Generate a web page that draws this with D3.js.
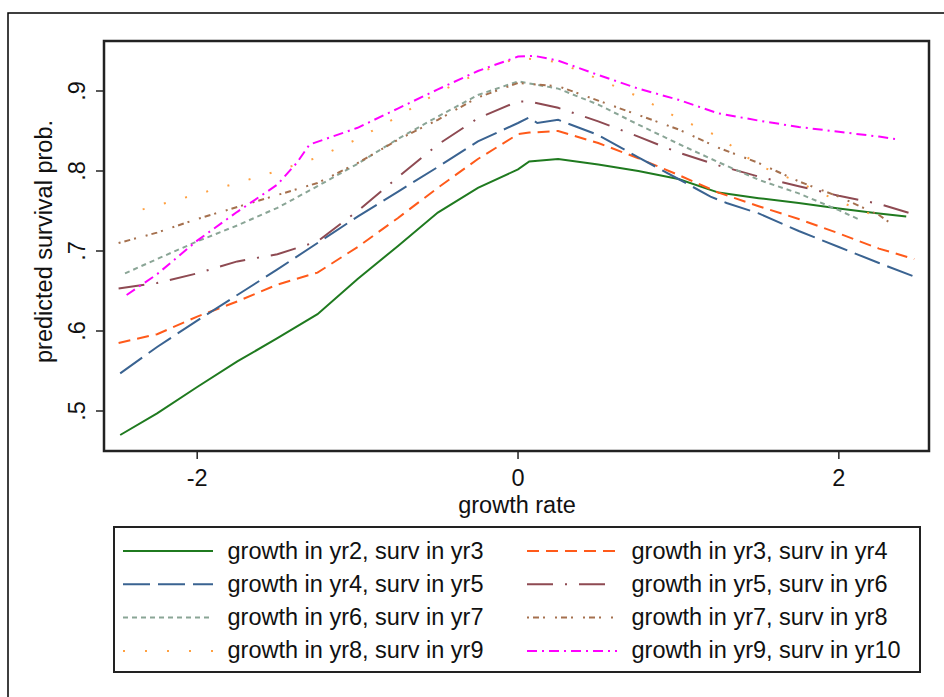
<!DOCTYPE html>
<html>
<head>
<meta charset="utf-8">
<script src="https://cdn.jsdelivr.net/npm/d3@7"></script>
<style>
  body { margin: 0; background: #fff; }
  text { font-family: "Liberation Sans", Arial, sans-serif; fill: #111; }
</style>
</head>
<body>
<div id="chart"></div>
<script>
// Datos: [tasa de crecimiento, prob. de supervivencia]
const yr2_3 = [[-2.48,.470],[-2.25,.497],[-2,.530],[-1.75,.562],[-1.5,.591],[-1.25,.621],[-1,.665],[-0.75,.706],[-0.5,.748],[-0.25,.779],[0,.802],[0.07,.812],[0.25,.815],[0.5,.808],[0.75,.800],[1,.790],[1.25,.773],[1.5,.766],[1.75,.760],[2,.753],[2.25,.747],[2.42,.743]];
const yr3_4 = [[-2.49,.585],[-2.25,.596],[-2,.618],[-1.75,.637],[-1.5,.658],[-1.25,.673],[-1,.705],[-0.75,.741],[-0.5,.779],[-0.25,.815],[0,.846],[0.07,.848],[0.25,.850],[0.5,.835],[0.75,.816],[1,.795],[1.25,.773],[1.5,.756],[1.75,.740],[2,.722],[2.25,.703],[2.47,.690]];
const yr4_5 = [[-2.48,.547],[-2.25,.580],[-2,.613],[-1.75,.645],[-1.5,.677],[-1.25,.710],[-1,.743],[-0.75,.774],[-0.5,.805],[-0.25,.837],[0,.860],[0.07,.867],[0.12,.860],[0.25,.864],[0.5,.845],[0.75,.817],[1,.790],[1.2,.768],[1.3,.760],[1.5,.747],[1.75,.725],[2,.705],[2.25,.685],[2.47,.668]];
const yr5_6 = [[-2.49,.653],[-2.25,.660],[-2,.672],[-1.75,.687],[-1.5,.696],[-1.25,.712],[-1,.750],[-0.75,.792],[-0.5,.833],[-0.25,.866],[0,.887],[0.07,.887],[0.25,.879],[0.5,.862],[0.75,.843],[1,.823],[1.25,.807],[1.5,.793],[1.75,.781],[2,.769],[2.25,.759],[2.48,.745]];
const yr6_7 = [[-2.45,.672],[-2.25,.690],[-2,.712],[-1.75,.732],[-1.5,.754],[-1.25,.781],[-1,.809],[-0.75,.840],[-0.5,.868],[-0.25,.895],[0,.912],[0.25,.903],[0.5,.883],[0.75,.858],[1,.834],[1.25,.811],[1.5,.789],[1.75,.772],[2,.751],[2.12,.740]];
const yr7_8 = [[-2.49,.710],[-2.25,.723],[-2,.740],[-1.75,.755],[-1.5,.770],[-1.25,.785],[-1,.810],[-0.75,.839],[-0.5,.864],[-0.25,.892],[0,.910],[0.25,.906],[0.5,.888],[0.75,.870],[1,.852],[1.25,.829],[1.5,.810],[1.75,.787],[2,.768],[2.25,.745],[2.32,.735]];
const yr8_9 = [[-2.34,.752],[-2.25,.757],[-2,.771],[-1.75,.785],[-1.5,.800],[-1.25,.817],[-1,.840],[-0.75,.868],[-0.5,.898],[-0.25,.922],[0,.942],[0.25,.936],[0.5,.915],[0.75,.893],[1,.866],[1.25,.843],[1.5,.807],[1.75,.786],[2,.762],[2.25,.742],[2.3,.737]];
const yr9_10 = [[-2.44,.645],[-2.25,.671],[-2,.713],[-1.75,.749],[-1.5,.783],[-1.38,.810],[-1.3,.833],[-1,.854],[-0.75,.878],[-0.5,.902],[-0.25,.925],[0,.943],[0.1,.944],[0.25,.938],[0.5,.920],[0.75,.903],[1,.889],[1.25,.872],[1.5,.863],[1.75,.855],[2,.849],[2.25,.843],[2.35,.840]];

const labels = ["growth in yr2, surv in yr3", "growth in yr3, surv in yr4",
                "growth in yr4, surv in yr5", "growth in yr5, surv in yr6",
                "growth in yr6, surv in yr7", "growth in yr7, surv in yr8",
                "growth in yr8, surv in yr9", "growth in yr9, surv in yr10"];
const xTicks = [-2, 0, 2];
const yTicks = [.5, .6, .7, .8, .9];

// Estilos de línea (colores y guiones)
const series = [yr2_3, yr3_4, yr4_5, yr5_6, yr6_7, yr7_8, yr8_9, yr9_10];
const colors = ["#1f7a1f", "#ff5a1a", "#3a6391", "#8e4a52", "#8aa596", "#a5704e", "#ffa040", "#ff00ff"];
const dashes = [null, "12,7", "27,8", "26,12,2,12", "5,4", "2,4,6,4,2,10", "2,20", "10,5,2,5"];

const width = 944, height = 697;
const fontSize = 23.5;
const svg = d3.select("#chart").append("svg")
    .attr("width", width)
    .attr("height", height);

// Marco exterior
svg.append("rect")
    .attr("x", 8).attr("y", 13)
    .attr("width", 1000).attr("height", 800)
    .attr("fill", "none").attr("stroke", "#000").attr("stroke-width", 1.5);

const x = d3.scaleLinear().domain([-2.581, 2.562]).range([104, 929]);
const y = d3.scaleLinear().domain([0.45, 0.9625]).range([451, 41]);

// Líneas
const line = d3.line().x(d => x(d[0])).y(d => y(d[1]));
series.forEach((s, i) => {
    svg.append("path")
        .attr("d", line(s))
        .attr("fill", "none")
        .attr("stroke", colors[i])
        .attr("stroke-width", 2)
        .attr("stroke-dasharray", dashes[i]);
});

// Región del gráfico
svg.append("rect")
    .attr("x", 104).attr("y", 41)
    .attr("width", 825).attr("height", 410)
    .attr("fill", "none").attr("stroke", "#222").attr("stroke-width", 2.5);

// Eje X
svg.selectAll(".xtick").data(xTicks).enter().append("line")
    .attr("x1", d => x(d)).attr("x2", d => x(d))
    .attr("y1", 451).attr("y2", 459)
    .attr("stroke", "#222").attr("stroke-width", 1.5);
svg.selectAll(".xlab").data(xTicks).enter().append("text")
    .attr("x", d => x(d)).attr("y", 486)
    .attr("text-anchor", "middle").attr("font-size", fontSize)
    .text(d => d);
svg.append("text")
    .attr("x", 517).attr("y", 513)
    .attr("text-anchor", "middle").attr("font-size", fontSize)
    .text("growth rate");

// Eje Y
svg.selectAll(".ytick").data(yTicks).enter().append("line")
    .attr("x1", 96).attr("x2", 104)
    .attr("y1", d => y(d)).attr("y2", d => y(d))
    .attr("stroke", "#222").attr("stroke-width", 1.5);
svg.selectAll(".ylab").data(yTicks).enter().append("text")
    .attr("transform", d => `translate(85,${y(d)}) rotate(-90)`)
    .attr("text-anchor", "middle").attr("font-size", fontSize)
    .text(d => d3.format(".1f")(d).replace(/^0/, ""));
svg.append("text")
    .attr("transform", "translate(52,241.5) rotate(-90)")
    .attr("text-anchor", "middle").attr("font-size", fontSize)
    .text("predicted survival prob.");

// Leyenda
svg.append("rect")
    .attr("x", 114).attr("y", 527)
    .attr("width", 806).attr("height", 145)
    .attr("fill", "none").attr("stroke", "#222").attr("stroke-width", 2);
const legend = svg.selectAll(".leg").data(labels).enter().append("g")
    .attr("transform", (d, i) => `translate(${i % 2 ? 527 : 123},${551 + Math.floor(i / 2) * 33.3})`);
legend.append("line")
    .attr("x1", 0).attr("x2", 90)
    .attr("stroke", (d, i) => colors[i])
    .attr("stroke-width", 2)
    .attr("stroke-dasharray", (d, i) => dashes[i]);
legend.append("text")
    .attr("x", 104.5).attr("y", 7.5)
    .attr("font-size", fontSize)
    .text(d => d);
</script>
</body>
</html>
